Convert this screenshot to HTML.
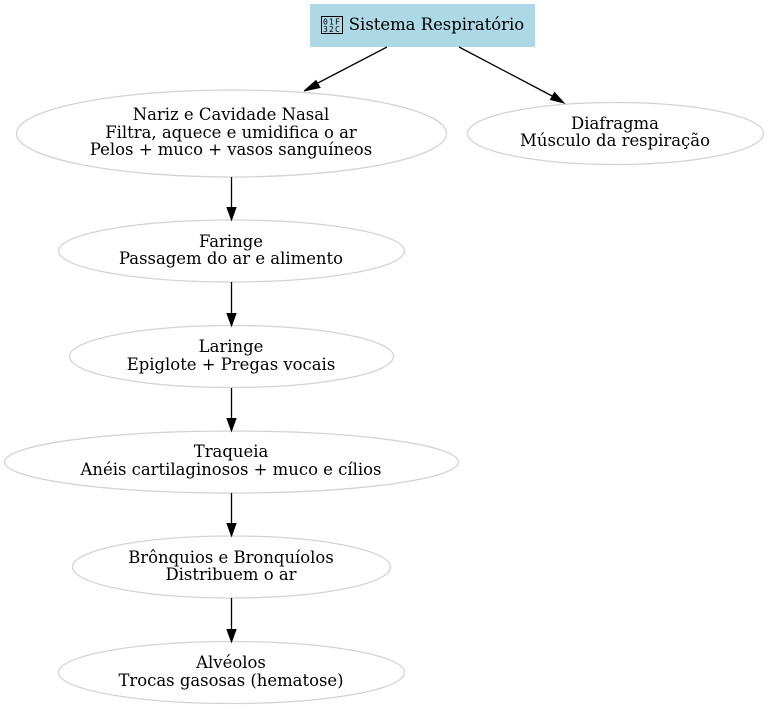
<!DOCTYPE html>
<html><head><meta charset="utf-8"><style>
html,body{margin:0;padding:0;background:#fff}
svg{display:block}
text{font-family:"DejaVu Serif",serif;font-size:16.45px;fill:#000;text-anchor:middle}
ellipse{fill:none;stroke:#d3d3d3;stroke-width:1.3}
line{stroke:#000;stroke-width:1.3}
polygon{fill:#000;stroke:#000}
</style></head><body>
<svg width="768" height="709" viewBox="0 0 768 709" xmlns="http://www.w3.org/2000/svg">
<rect x="310" y="4" width="225" height="43" fill="#add8e6"/>
<rect x="321.5" y="16.5" width="21" height="17" fill="none" stroke="#000" stroke-width="1"/>
<text x="332" y="24.5" style="font-size:8px;font-family:'DejaVu Sans Mono',monospace;letter-spacing:1.2px">01F</text>
<text x="332" y="32" style="font-size:8px;font-family:'DejaVu Sans Mono',monospace;letter-spacing:1.2px">32C</text>
<text x="436.5" y="30">Sistema Respiratório</text>

<ellipse cx="231.5" cy="133.5" rx="215" ry="43.5"/>
<text x="231" y="120">Nariz e Cavidade Nasal</text>
<text x="231" y="138">Filtra, aquece e umidifica o ar</text>
<text x="231" y="155">Pelos + muco + vasos sanguíneos</text>

<ellipse cx="615.5" cy="133.5" rx="148" ry="31"/>
<text x="615" y="129">Diafragma</text>
<text x="615" y="146">Músculo da respiração</text>

<ellipse cx="231.5" cy="251" rx="173" ry="31"/>
<text x="231" y="247">Faringe</text>
<text x="231" y="264">Passagem do ar e alimento</text>

<ellipse cx="231.5" cy="356.5" rx="162" ry="31"/>
<text x="231" y="352">Laringe</text>
<text x="231" y="370">Epiglote + Pregas vocais</text>

<ellipse cx="231.5" cy="462" rx="227" ry="31"/>
<text x="231" y="457">Traqueia</text>
<text x="231" y="475">Anéis cartilaginosos + muco e cílios</text>

<ellipse cx="231.5" cy="567" rx="159" ry="31"/>
<text x="231" y="563">Brônquios e Bronquíolos</text>
<text x="231" y="580">Distribuem o ar</text>

<ellipse cx="231.5" cy="672.5" rx="173" ry="31"/>
<text x="231" y="668">Alvéolos</text>
<text x="231" y="686">Trocas gasosas (hematose)</text>

<line x1="387" y1="47" x2="314" y2="85"/>
<polygon points="304,91 316,80.5 320,87.5"/>
<line x1="459" y1="47" x2="554" y2="97"/>
<polygon points="564,103 550.5,99.5 554.5,92.5"/>
<line x1="231.5" y1="177" x2="231.5" y2="208"/>
<polygon points="231.5,220 227,207.5 236,207.5"/>
<line x1="231.5" y1="282" x2="231.5" y2="314"/>
<polygon points="231.5,326 227,313.5 236,313.5"/>
<line x1="231.5" y1="388" x2="231.5" y2="419"/>
<polygon points="231.5,431 227,418.5 236,418.5"/>
<line x1="231.5" y1="493" x2="231.5" y2="524"/>
<polygon points="231.5,536 227,523.5 236,523.5"/>
<line x1="231.5" y1="598" x2="231.5" y2="630"/>
<polygon points="231.5,642 227,629.5 236,629.5"/>
</svg>
</body></html>
